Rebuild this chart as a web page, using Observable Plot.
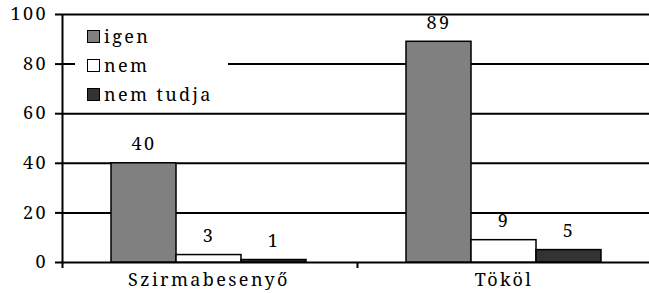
<!DOCTYPE html>
<html>
<head>
<meta charset="utf-8">
<script src="https://cdn.jsdelivr.net/npm/d3@7"></script>
<script src="https://cdn.jsdelivr.net/npm/@observablehq/plot@0.6"></script>
<style>
  html, body { margin: 0; padding: 0; background: #fff; }
  #wrap { position: relative; width: 649px; height: 293px; }
  #legend {
    position: absolute; left: 75px; top: 20px; width: 153px; height: 88px;
    background: #fff; font-family: "Noto Serif", "Liberation Serif", serif; font-size: 18px;
    letter-spacing: 2.4px; color: #000;
  }
  .row { position: absolute; left: 12px; display: flex; align-items: center; height: 20px; }
  .sw { width: 11px; height: 11px; border: 1.5px solid #000; margin-right: 4px; }
</style>
</head>
<body>
<div id="wrap"></div>
<script>
const locations = ["Szirmabesenyő", "Tököl"];
const series = ["igen", "nem", "nem tudja"];
const igen = [40, 89];
const nem = [3, 9];
const nemTudja = [1, 5];
const yTicks = [0, 20, 40, 60, 80, 100];
const colors = ["#808080", "#ffffff", "#333333"];

const values = [igen, nem, nemTudja];
const rows = [];
locations.forEach((loc, i) => series.forEach((s, j) => rows.push({location: loc, series: s, value: values[j][i]})));

const W = 649, H = 293, mL = 61, mT = 14, mB = 31;
const fxRange = [mL, 651];
const pOuter = 0.735;
const facetW = (fxRange[1] - fxRange[0]) / locations.length;
const bw = facetW / (series.length + 2 * pOuter);
const edgeOffset = pOuter * bw + bw / 2;
const tickUnits = 6 / ((H - mT - mB) / 100);

const edges = [
  {location: locations[0], y1: -tickUnits, y2: 100},
  {location: locations[1], y1: -tickUnits, y2: 0}
];

const chart = Plot.plot({
  width: W, height: H,
  marginLeft: mL, marginRight: 0, marginTop: mT, marginBottom: mB,
  style: {fontFamily: "'Noto Serif', 'Liberation Serif', serif", fontSize: "18px", letterSpacing: "2.4px", color: "#000", background: "#fff"},
  fx: {domain: locations, range: fxRange, padding: 0, label: null, axis: null},
  x: {domain: series, paddingInner: 0, paddingOuter: pOuter, axis: null},
  y: {domain: [0, 100], axis: null},
  color: {domain: series, range: colors},
  marks: [
    Plot.ruleY(yTicks, {stroke: "#000", strokeWidth: 2}),
    Plot.barY(rows, {fx: "location", x: "series", y: "value", fill: "series", stroke: "#000", strokeWidth: 1.5, inset: 0}),
    Plot.text(rows, {fx: "location", x: "series", y: "value", text: d => String(d.value), dy: -19, fill: "#000"}),
    Plot.ruleX(edges, {fx: "location", x: () => series[0], y1: "y1", y2: "y2", dx: -edgeOffset, stroke: "#000", strokeWidth: 2}),
    Plot.axisY({ticks: yTicks, tickSize: 6, tickPadding: 7.5, strokeWidth: 2, label: null}),
    Plot.axisFx({anchor: "bottom", tickSize: 0, tickPadding: 11, label: null})
  ]
});
document.getElementById("wrap").appendChild(chart);

const legend = document.createElement("div");
legend.id = "legend";
series.forEach((s, j) => {
  const r = document.createElement("div");
  r.className = "row";
  r.style.top = (6 + j * 29) + "px";
  const sw = document.createElement("div");
  sw.className = "sw";
  sw.style.background = colors[j];
  const t = document.createElement("span");
  t.textContent = s;
  r.appendChild(sw); r.appendChild(t);
  legend.appendChild(r);
});
document.getElementById("wrap").appendChild(legend);
</script>
</body>
</html>
